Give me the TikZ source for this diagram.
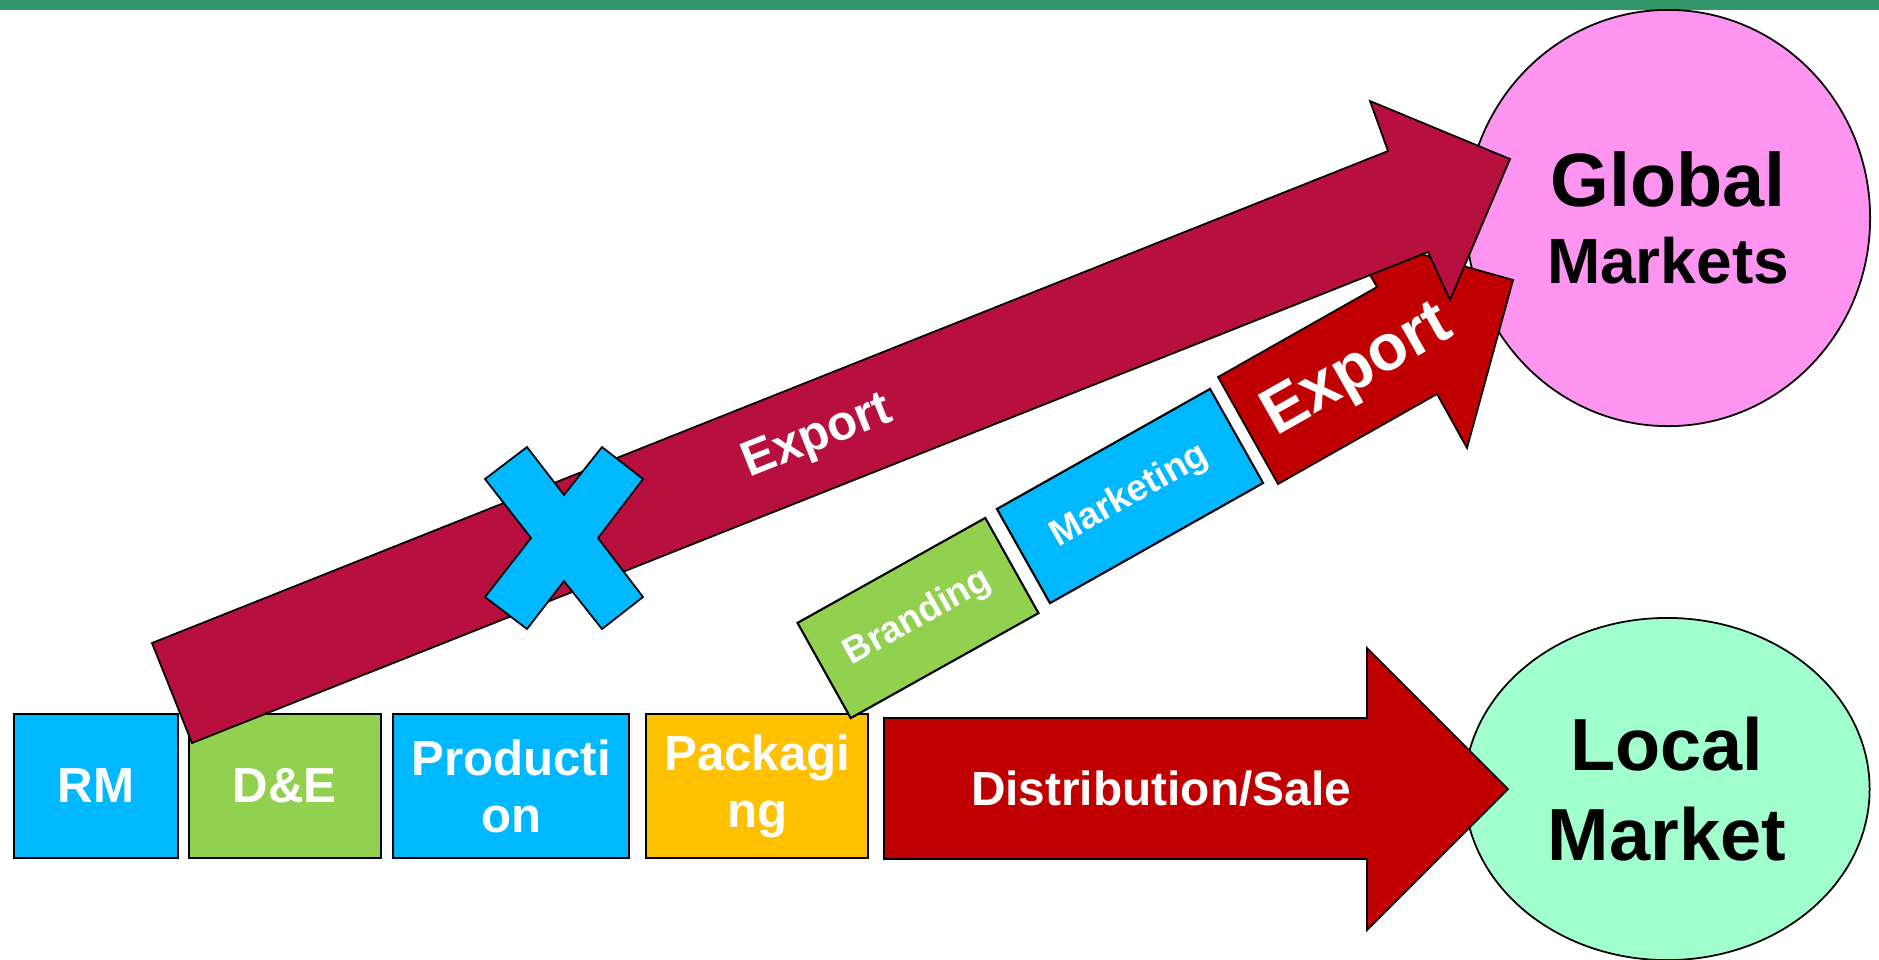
\documentclass[tikz,border=0pt]{standalone}
\usepackage{fontspec}
\setmainfont{Liberation Sans}
\usetikzlibrary{shapes.geometric, positioning}

\definecolor{barGreen}{RGB}{51,150,107}
\definecolor{blueBox}{RGB}{0,184,255}
\definecolor{greenBox}{RGB}{146,208,80}
\definecolor{yellowBox}{RGB}{255,192,0}
\definecolor{darkRed}{RGB}{192,0,0}
\definecolor{crimson}{RGB}{183,16,63}
\definecolor{pinkMarket}{RGB}{252,148,240}
\definecolor{mintMarket}{RGB}{160,255,204}

\tikzstyle{stagebox} = [rectangle, minimum height=1.44cm, inner sep=0pt, outer sep=0pt, text centered, align=center, draw=black, line width=0.6pt, text=white, font=\bfseries\fontsize{14}{16.2}\selectfont]
\tikzstyle{tiltbox} = [rectangle, minimum width=2.15cm, minimum height=1.09cm, inner sep=0pt, draw=black, line width=0.6pt, text=white, font=\bfseries\fontsize{10.5}{12.5}\selectfont]
\tikzstyle{marketshape} = [ellipse, inner sep=0pt, draw=black, line width=0.5pt, align=center, font=\bfseries\fontsize{21.5}{22}\selectfont]
\tikzstyle{blockarrow} = [draw=black, line width=0.5pt]
\tikzstyle{arrowlabel} = [inner sep=0pt, text=white, font=\bfseries]

\begin{document}
\begin{tikzpicture}[x=0.01cm, y=-0.01cm]

    \useasboundingbox (0,0) rectangle (1879,959);
    \fill [barGreen] (0,0) rectangle (1879,10);

    \node (global) [marketshape, fill=pinkMarket, minimum width=4.04cm, minimum height=4.16cm] at (1668,218) {Global\\{\fontsize{18.2}{22}\selectfont Markets}};
    \node (local) [marketshape, fill=mintMarket, minimum width=4.05cm, minimum height=3.42cm, font=\bfseries\fontsize{21}{25.5}\selectfont] at (1667,789) {Local\\Market};

    \node (rm) [stagebox, fill=blueBox, minimum width=1.647cm] at (96,786) {RM};
    \node (de) [stagebox, fill=greenBox, minimum width=1.916cm, right=0.105cm of rm] {D\&E};
    \node (prod) [stagebox, fill=blueBox, minimum width=2.36cm, right=0.124cm of de] {Producti\\on};
    \node (pack) [stagebox, fill=yellowBox, minimum width=2.22cm, right=0.17cm of prod] {Packagi\\ng};

    \draw [blockarrow, fill=darkRed] (884,718) -- (1367,718) -- (1367,648) -- (1508,789) -- (1367,930) -- (1367,859) -- (884,859) -- cycle;
    \node (sale) [arrowlabel, font=\bfseries\fontsize{13.6}{15}\selectfont] at (1161,789) {Distribution/Sale};

    \node (brand) [tiltbox, fill=greenBox, rotate=29.2] at (918,618) {Branding};
    \node (mkt) [tiltbox, fill=blueBox, minimum width=2.445cm, minimum height=1.08cm, rotate=29.4] at (1130,496) {Marketing};

    \draw [blockarrow, fill=darkRed] (1218,377) -- (1377,287) -- (1346,233) -- (1513,280) -- (1467,448) -- (1437,394) -- (1278,484) -- cycle;
    \node (exportnear) [arrowlabel, rotate=29.5, font=\bfseries\fontsize{18.5}{20}\selectfont] at (1358,372) {Export};

    \draw [blockarrow, fill=crimson] (152,643) -- (1388,151) -- (1370,101) -- (1510,159) -- (1450,300) -- (1428,252) -- (192,743) -- cycle;
    \node (exportdirect) [arrowlabel, rotate=21.7, font=\bfseries\fontsize{14}{16}\selectfont] at (818,438) {Export};

    \draw [blockarrow, fill=blueBox] (527,447) -- (564,495) -- (602,447) -- (643,479) -- (598,538) -- (643,597) -- (602,629) -- (564,581) -- (527,629) -- (485,597) -- (531,538) -- (485,479) -- cycle;

\end{tikzpicture}
\end{document}
